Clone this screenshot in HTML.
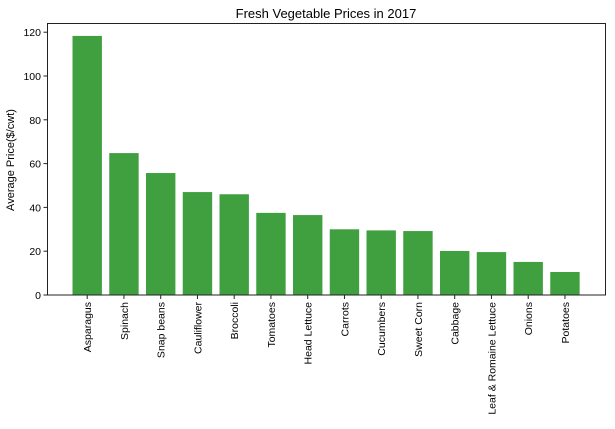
<!DOCTYPE html>
<html><head><meta charset="utf-8"><style>
html,body{margin:0;padding:0;background:#fff;}
svg{display:block;font-family:"Liberation Sans","DejaVu Sans",sans-serif;}
</style></head><body>
<svg id="chart" width="615" height="429">
<text x="326" y="18" text-anchor="middle" font-size="13">Fresh Vegetable Prices in 2017</text>
<text transform="translate(14,160) rotate(-90)" text-anchor="middle" font-size="11">Average Price($/cwt)</text>
<g id="bars"></g><g id="yaxis"></g><g id="xaxis"></g>
<rect x="47.5" y="23.5" width="558" height="271.5" fill="none" stroke="#222" stroke-width="1"/>
</svg>
<script>
const categories=["Asparagus","Spinach","Snap beans","Cauliflower","Broccoli","Tomatoes","Head Lettuce","Carrots","Cucumbers","Sweet Corn","Cabbage","Leaf & Romaine Lettuce","Onions","Potatoes"];
const values=[118.3,64.8,55.7,47,46,37.5,36.5,30,29.5,29.2,20.1,19.6,15.1,10.5];
const yTicks=[0,20,40,60,80,100,120];
const NS="http://www.w3.org/2000/svg";
const y0=295,pxPer=2.19,x0=87.2,pitch=36.75,bw=29.4;
const ys=v=>y0-v*pxPer, xs=i=>x0+i*pitch;
function mk(t,a,p){const e=document.createElementNS(NS,t);for(const k in a)e.setAttribute(k,a[k]);p.appendChild(e);return e;}
const bars=document.getElementById('bars'),ya=document.getElementById('yaxis'),xa=document.getElementById('xaxis');
values.forEach((v,i)=>{
 const r=mk('rect',{x:xs(i)-bw/2,y:ys(v),width:bw,height:y0-ys(v),fill:'#40a040'},bars);
 
 
 const tk=mk('line',{x1:xs(i),x2:xs(i),y1:y0,y2:y0+4,stroke:'#222'},xa);
 
 
 const t=mk('text',{transform:`translate(${xs(i)+4},${y0+7}) rotate(-90)`,'text-anchor':'end','font-size':'10.5'},xa);
 t.textContent=categories[i];
 
 
});
yTicks.forEach(v=>{
 const tk=mk('line',{x1:43.5,x2:47.5,y1:ys(v),y2:ys(v),stroke:'#222'},ya);
 
 
 const t=mk('text',{x:41,y:ys(v)+4,'text-anchor':'end','font-size':'10.5'},ya);
 t.textContent=v;
 
 
});
</script>
</body></html>
